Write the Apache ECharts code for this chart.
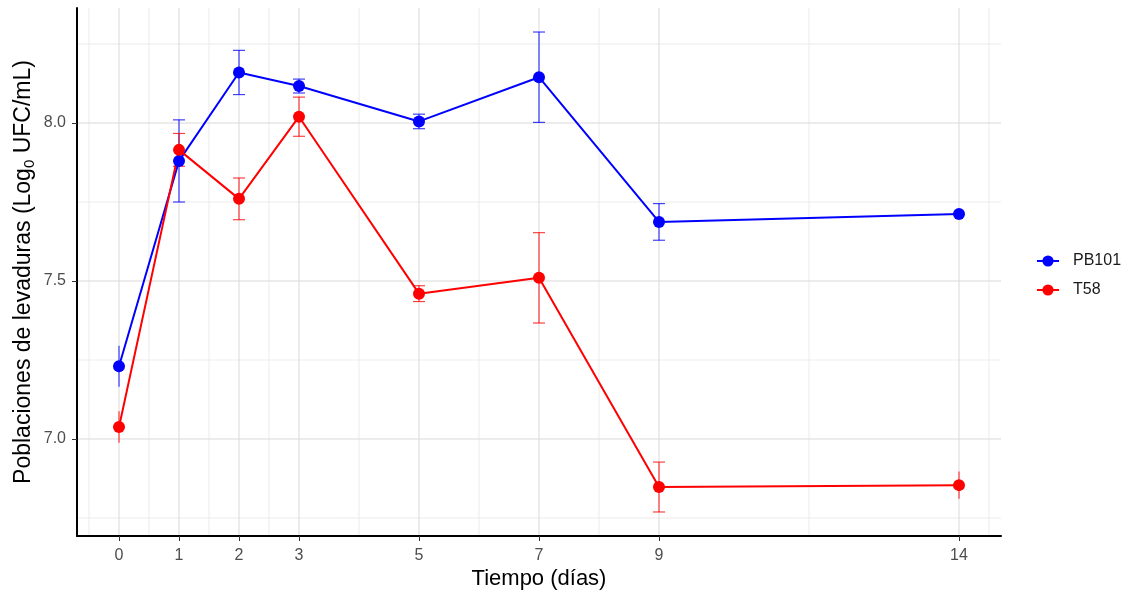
<!DOCTYPE html>
<html>
<head>
<meta charset="utf-8">
<script src="https://cdn.jsdelivr.net/npm/echarts@6/dist/echarts.min.js"></script>
<style>
  html, body { margin: 0; background: #fff; }
  #main { width: 1139px; height: 596px; }
</style>
</head>
<body>
<div id="main"></div>
<script>
// data
const days = [0, 1, 2, 3, 5, 7, 9, 14];
const pb101Mean = [7.23, 7.88, 8.16, 8.117, 8.005, 8.145, 7.687, 7.712];
const pb101Sd = [0.065, 0.13, 0.07, 0.022, 0.023, 0.143, 0.058, 0.004];
const t58Mean = [7.038, 7.915, 7.76, 8.02, 7.46, 7.51, 6.848, 6.854];
const t58Sd = [0.05, 0.052, 0.066, 0.062, 0.025, 0.143, 0.079, 0.043];

const xBreaks = [0, 1, 2, 3, 5, 7, 9, 14];
const xMinor = [-0.5, 0.5, 1.5, 2.5, 4, 6, 8, 11.5, 14.5];
const yBreaks = [7.0, 7.5, 8.0];
const yMinor = [6.75, 7.25, 7.75, 8.25];

const FONT = 'Liberation Sans, Arial, sans-serif';

const chart = echarts.init(document.getElementById('main'));

function gridLines() {
  // kind: 0 major x, 1 minor x, 2 major y, 3 minor y
  const data = [];
  xMinor.forEach(v => data.push([v, 7.5, 1]));
  yMinor.forEach(v => data.push([0, v, 3]));
  xBreaks.forEach(v => data.push([v, 7.5, 0]));
  yBreaks.forEach(v => data.push([0, v, 2]));
  return {
    type: 'custom',
    name: 'grid',
    silent: true,
    z: 0,
    data: data,
    renderItem(params, api) {
      const cs = params.coordSys;
      const kind = api.value(2);
      const stroke = (kind === 0 || kind === 2) ? '#d9d9d9' : '#ebebeb';
      let shape;
      if (kind < 2) {
        const p = api.coord([api.value(0), 7.5]);
        shape = {x1: p[0], y1: cs.y, x2: p[0], y2: cs.y + cs.height};
      } else {
        const p = api.coord([0, api.value(1)]);
        shape = {x1: cs.x, y1: p[1], x2: cs.x + cs.width, y2: p[1]};
      }
      return {type: 'line', shape: shape, style: {stroke: stroke, lineWidth: 1}};
    }
  };
}

function errorBars(name, means, sds, color) {
  return {
    type: 'custom',
    name: name,
    z: 3,
    silent: true,
    data: days.map((d, i) => [d, means[i] - sds[i], means[i] + sds[i]]),
    encode: {x: 0, y: [1, 2]},
    renderItem(params, api) {
      const x = api.value(0);
      const lo = api.coord([x, api.value(1)]);
      const hi = api.coord([x, api.value(2)]);
      // no caps on the first and last day in the original
      const capped = params.dataIndex > 0 && params.dataIndex < days.length - 1;
      const style = {stroke: color, lineWidth: 1.2};
      const children = [{type: 'line', shape: {x1: lo[0], y1: lo[1], x2: hi[0], y2: hi[1]}, style: style}];
      if (capped) {
        const half = api.size([0.1, 0])[0];
        children.push({type: 'line', shape: {x1: hi[0] - half, y1: hi[1], x2: hi[0] + half, y2: hi[1]}, style: style});
        children.push({type: 'line', shape: {x1: lo[0] - half, y1: lo[1], x2: lo[0] + half, y2: lo[1]}, style: style});
      }
      return {type: 'group', children: children};
    }
  };
}

function meanLine(name, means, color) {
  return {
    type: 'line',
    name: name,
    z: 4,
    data: days.map((d, i) => [d, means[i]]),
    symbol: 'circle',
    symbolSize: 12,
    itemStyle: {color: color},
    lineStyle: {color: color, width: 2},
    emphasis: {disabled: true}
  };
}

const options = {
  animation: false,
  textStyle: {fontFamily: FONT},
  grid: {left: 77, right: 138, top: 8, bottom: 60},
  legend: {
    data: ['PB101', 'T58'],
    orient: 'vertical',
    left: 1031,
    top: 248,
    itemWidth: 22,
    itemHeight: 14,
    itemGap: 13,
    textStyle: {fontFamily: FONT, fontSize: 16, color: '#1a1a1a', padding: [0, 0, 0, 9]}
  },
  xAxis: {
    type: 'value',
    min: -0.7,
    max: 14.7,
    name: 'Tiempo (días)',
    nameLocation: 'middle',
    nameGap: 32,
    nameMoveOverlap: false,
    nameTextStyle: {fontFamily: FONT, fontSize: 22, color: '#000'},
    axisLine: {onZero: false, lineStyle: {color: '#000', width: 2}},
    axisTick: {customValues: xBreaks, length: 5, lineStyle: {color: '#333'}},
    axisLabel: {customValues: xBreaks, fontFamily: FONT, fontSize: 16, color: '#4d4d4d', margin: 12},
    splitLine: {show: false}
  },
  yAxis: {
    type: 'value',
    min: 6.693,
    max: 8.364,
    name: '{t|Poblaciones de levaduras (Log}{s|0}{t| UFC/mL)}',
    nameLocation: 'middle',
    nameGap: 40,
    nameRotate: 90,
    nameMoveOverlap: false,
    nameTextStyle: {
      fontFamily: FONT, fontSize: 23, color: '#000',
      rich: {
        t: {fontFamily: FONT, fontSize: 23, color: '#000'},
        s: {fontFamily: FONT, fontSize: 15, color: '#000', padding: [12, 0, 0, 0]}
      }
    },
    axisLine: {show: true, onZero: false, lineStyle: {color: '#000', width: 2}},
    axisTick: {show: true, customValues: yBreaks, length: 5, lineStyle: {color: '#333'}},
    axisLabel: {
      customValues: yBreaks, fontFamily: FONT, fontSize: 16, color: '#4d4d4d', margin: 11,
      formatter: v => v.toFixed(1)
    },
    splitLine: {show: false}
  },
  series: [
    gridLines(),
    errorBars('PB101 error', pb101Mean, pb101Sd, 'rgba(0,0,255,0.75)'),
    errorBars('T58 error', t58Mean, t58Sd, 'rgba(255,0,0,0.75)'),
    meanLine('PB101', pb101Mean, '#0000ff'),
    meanLine('T58', t58Mean, '#ff0000')
  ]
};

chart.setOption(options);
</script>
</body>
</html>
